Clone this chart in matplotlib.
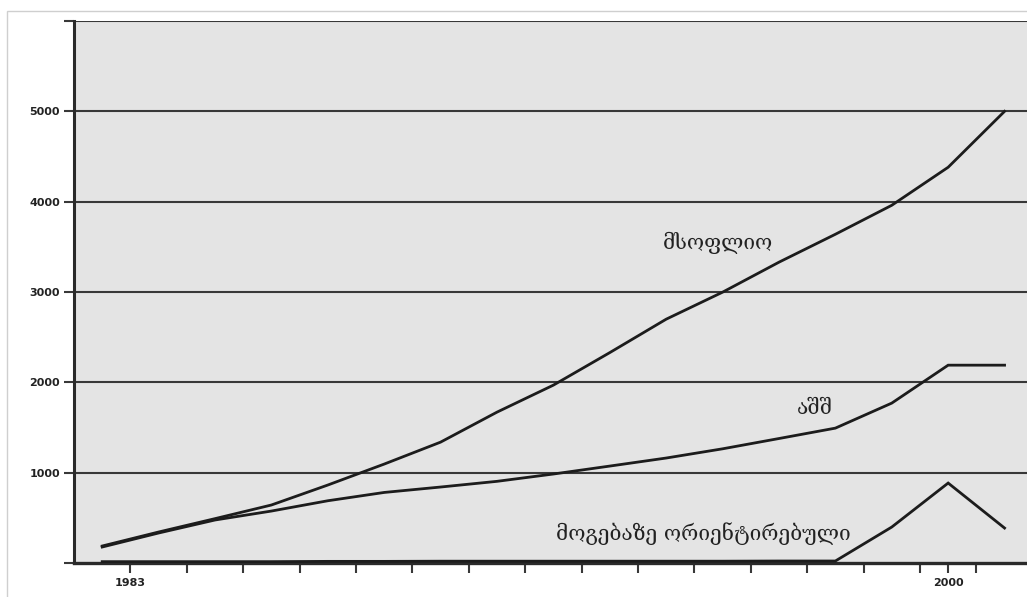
import matplotlib
matplotlib.use("Agg")
import matplotlib.pyplot as plt
from matplotlib.patches import Rectangle

# --- data (17 periods) ---
periods = list(range(17))
world = [188, 343, 491, 642, 863, 1095, 1338, 1670, 1969, 2329, 2699, 2998, 3330, 3639, 3960, 4381, 5000]
usa = [177, 332, 476, 575, 689, 781, 841, 904, 985, 1073, 1162, 1264, 1378, 1493, 1770, 2190, 2190]
profit = [15, 15, 15, 15, 18, 18, 20, 20, 20, 20, 20, 20, 22, 22, 398, 885, 387]

label_world = "მსოფლიო"
label_usa = "აშშ"
label_profit = "მოგებაზე ორიენტირებული"

y_ticks = [0, 1000, 2000, 3000, 4000, 5000, 6000]
y_labels = ["", "1000", "2000", "3000", "4000", "5000", ""]
x_minor = [0.5 + i for i in range(16)] + [15]
x_major = [0.5, 15]
x_labels = ["1983", "2000"]

W, H = 1027, 597
fig = plt.figure(figsize=(W / 100, H / 100), dpi=100)
fig.patch.set_facecolor("white")

# faint outer frame
fig.patches.append(Rectangle((7 / W, -0.1), 1.2, 1.1 - 11 / H, transform=fig.transFigure,
                             fill=False, edgecolor="#cfcfcf", linewidth=1.0))

ax = fig.add_axes([74 / W, 1 - 563 / H, (W - 74) / W + 0.01, (563 - 21) / H])
ax.set_facecolor("#e4e4e4")

ax.set_ylim(0, 6000)
ax.set_xlim(-0.5, 16.58)

for yv in y_ticks[1:]:
    ax.axhline(yv, color="#383838", linewidth=1.5, zorder=1)

line_kw = dict(color="#1c1c1c", linewidth=2.0, zorder=3, solid_joinstyle="miter")
ax.plot(periods, world, **line_kw)
ax.plot(periods, usa, **line_kw)
ax.plot(periods, profit, **line_kw)

txt_kw = dict(family=["DejaVu Serif", "DejaVu Sans"], fontsize=15, color="#222222",
              ha="center", va="center", zorder=4)
ax.text(10.92, 3540, label_world, **txt_kw)
ax.text(12.64, 1715, label_usa, **txt_kw)
ax.text(10.66, 330, label_profit, **txt_kw)

ax.set_yticks(y_ticks)
ax.set_yticklabels(y_labels, fontsize=8, fontweight="bold", color="#222222")
ax.tick_params(axis="y", direction="out", length=7, width=1.5, color="#383838", pad=3)

ax.set_xticks(x_minor, minor=True)
ax.set_xticks(x_major)
ax.set_xticklabels(x_labels, fontsize=8, fontweight="bold", color="#222222")
ax.tick_params(axis="x", which="both", direction="out", length=7, width=1.5, color="#383838", pad=4)

for s in ["top", "right"]:
    ax.spines[s].set_visible(False)
ax.spines["left"].set_linewidth(2.2)
ax.spines["left"].set_color("#2a2a2a")
ax.spines["bottom"].set_linewidth(2.4)
ax.spines["bottom"].set_color("#2a2a2a")

fig.savefig("out.png", dpi=100, facecolor="white")
